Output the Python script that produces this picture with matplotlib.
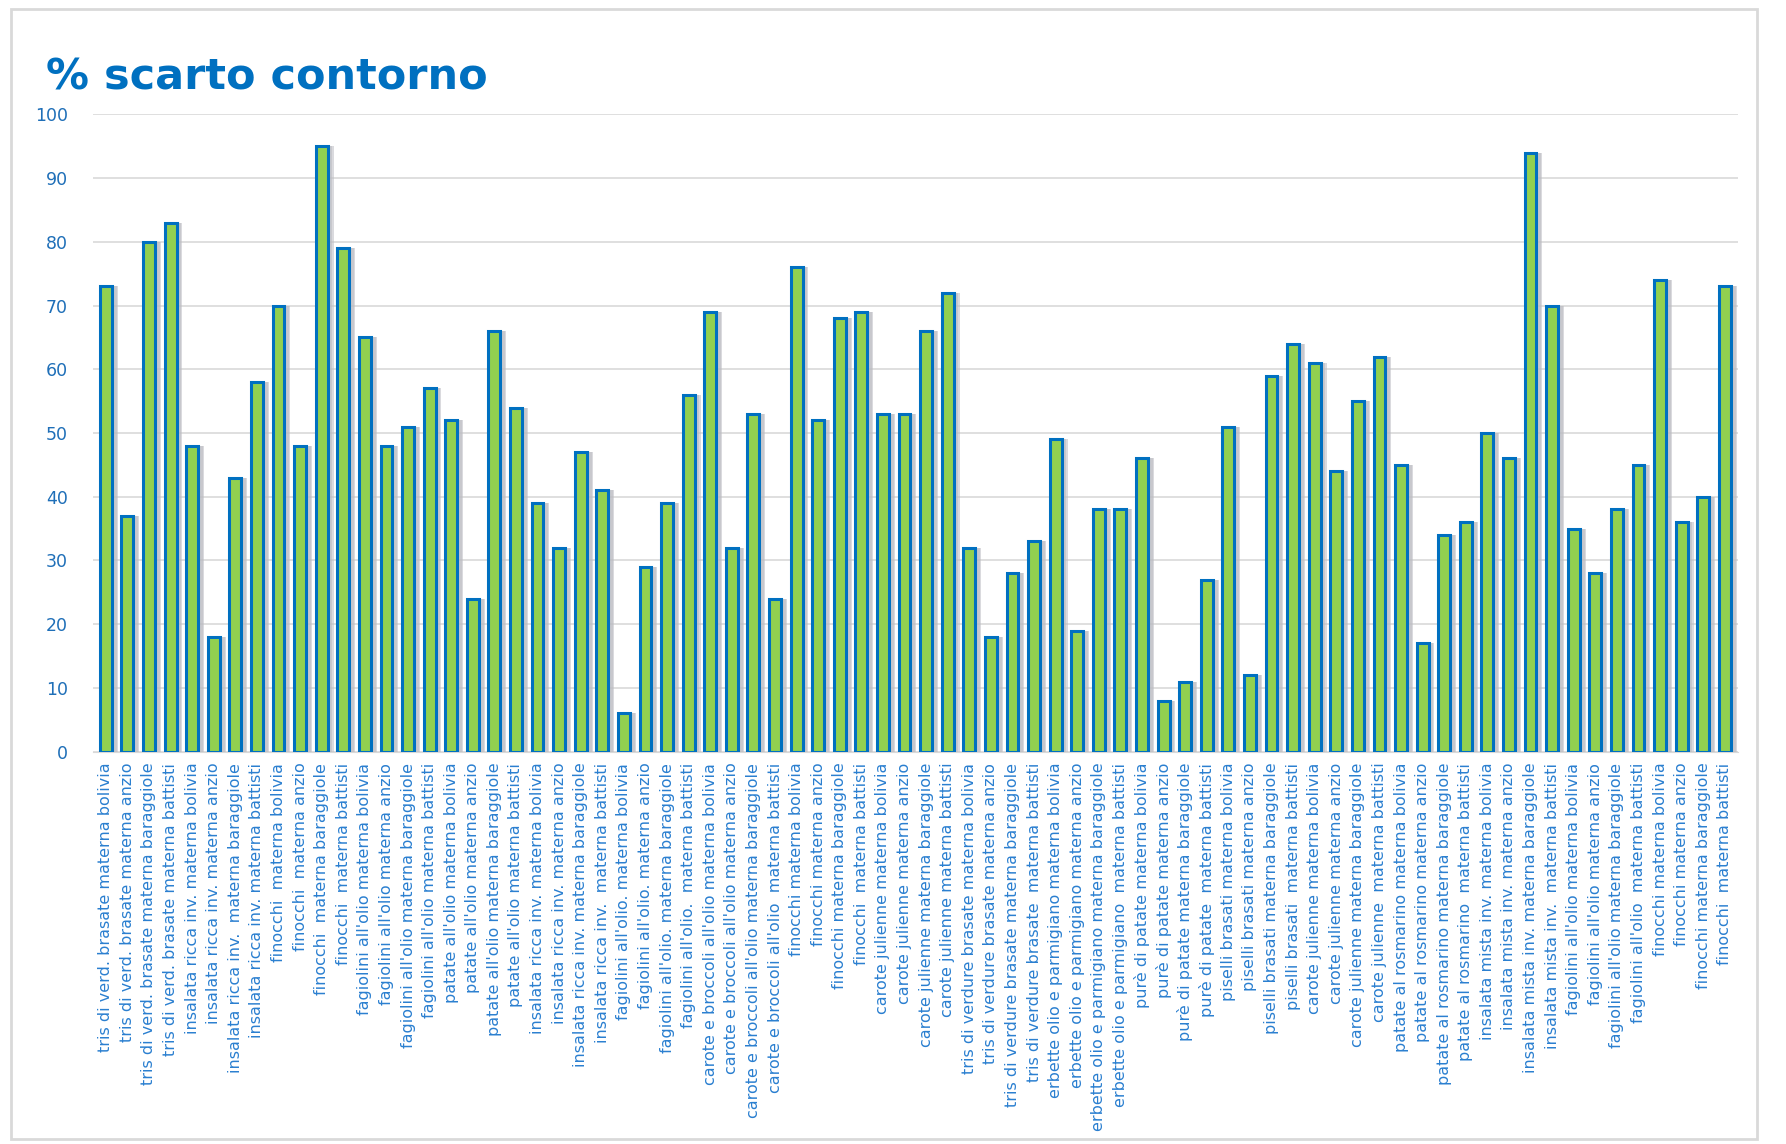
import numpy as np
import matplotlib.pyplot as plt
from matplotlib.patches import Rectangle

labels = [
    "tris di verd. brasate materna bolivia",
    "tris di verd. brasate materna anzio",
    "tris di verd. brasate materna baraggiole",
    "tris di verd. brasate materna battisti",
    "insalata ricca inv. materna bolivia",
    "insalata ricca inv. materna anzio",
    "insalata ricca inv.  materna baraggiole",
    "insalata ricca inv. materna battisti",
    "finocchi  materna bolivia",
    "finocchi  materna anzio",
    "finocchi  materna baraggiole",
    "finocchi  materna battisti",
    "fagiolini all'olio materna bolivia",
    "fagiolini all'olio materna anzio",
    "fagiolini all'olio materna baraggiole",
    "fagiolini all'olio materna battisti",
    "patate all'olio materna bolivia",
    "patate all'olio materna anzio",
    "patate all'olio materna baraggiole",
    "patate all'olio materna battisti",
    "insalata ricca inv. materna bolivia",
    "insalata ricca inv. materna anzio",
    "insalata ricca inv. materna baraggiole",
    "insalata ricca inv.  materna battisti",
    "fagiolini all'olio. materna bolivia",
    "fagiolini all'olio. materna anzio",
    "fagiolini all'olio. materna baraggiole",
    "fagiolini all'olio.  materna battisti",
    "carote e broccoli all'olio materna bolivia",
    "carote e broccoli all'olio materna anzio",
    "carote e broccoli all'olio materna baraggiole",
    "carote e broccoli all'olio  materna battisti",
    "finocchi materna bolivia",
    "finocchi materna anzio",
    "finocchi materna baraggiole",
    "finocchi  materna battisti",
    "carote julienne materna bolivia",
    "carote julienne materna anzio",
    "carote julienne materna baraggiole",
    "carote julienne materna battisti",
    "tris di verdure brasate materna bolivia",
    "tris di verdure brasate materna anzio",
    "tris di verdure brasate materna baraggiole",
    "tris di verdure brasate  materna battisti",
    "erbette olio e parmigiano materna bolivia",
    "erbette olio e parmigiano materna anzio",
    "erbette olio e parmigiano materna baraggiole",
    "erbette olio e parmigiano  materna battisti",
    "purè di patate materna bolivia",
    "purè di patate materna anzio",
    "purè di patate materna baraggiole",
    "purè di patate  materna battisti",
    "piselli brasati materna bolivia",
    "piselli brasati materna anzio",
    "piselli brasati materna baraggiole",
    "piselli brasati  materna battisti",
    "carote julienne materna bolivia",
    "carote julienne materna anzio",
    "carote julienne materna baraggiole",
    "carote julienne  materna battisti",
    "patate al rosmarino materna bolivia",
    "patate al rosmarino materna anzio",
    "patate al rosmarino materna baraggiole",
    "patate al rosmarino  materna battisti",
    "insalata mista inv. materna bolivia",
    "insalata mista inv. materna anzio",
    "insalata mista inv. materna baraggiole",
    "insalata mista inv.  materna battisti",
    "fagiolini all'olio materna bolivia",
    "fagiolini all'olio materna anzio",
    "fagiolini all'olio materna baraggiole",
    "fagiolini all'olio  materna battisti",
    "finocchi materna bolivia",
    "finocchi materna anzio",
    "finocchi materna baraggiole",
    "finocchi  materna battisti",
]

values = [73, 37, 80, 83, 48, 18, 43, 58, 70, 48, 95, 79,
          65, 48, 51, 57, 52, 24, 66, 54, 39, 32, 47, 41,
          6, 29, 39, 56, 69, 32, 53, 24, 76, 52, 68, 69,
          53, 53, 66, 72, 32, 18, 28, 33, 49, 19, 38, 38,
          46, 8, 11, 27, 51, 12, 59, 64, 61, 44, 55, 62,
          45, 17, 34, 36, 50, 46, 94, 70, 35, 28, 38, 45,
          74, 36, 40, 73]

yticks = [0, 10, 20, 30, 40, 50, 60, 70, 80, 90, 100]

blue = "#0070C0"
green = "#92D050"

fig = plt.figure(figsize=(17.86, 11.44), dpi=100)
fig.patches.append(Rectangle((0.006, 0.004), 0.978, 0.988, transform=fig.transFigure,
                             fill=False, edgecolor="#D9D9D9", linewidth=2))

ax = fig.add_axes([0.052, 0.343, 0.921, 0.557])
x = np.arange(len(values))

# soft grey shadow to the right of each bar
ax.bar(x + 0.2, values, width=0.6, color="#BDBDC3", alpha=0.6, zorder=2, linewidth=0)
ax.bar(x + 0.3, values, width=0.5, color="#BDBDC3", alpha=0.55, zorder=2, linewidth=0)
ax.bar(x, values, width=0.55, color=green, edgecolor=blue, linewidth=2.2, zorder=3)

ax.set_xlim(-0.6, len(values) - 0.4)
ax.set_ylim(0, 100)
ax.set_yticks(yticks)
ax.set_yticklabels([str(v) for v in yticks], color="#1F6FB8", fontsize=12.5)
ax.set_xticks(x)
ax.set_xticklabels(labels, rotation=90, fontsize=11.5, color="#2A7FD0", va="top", ha="center")
ax.tick_params(axis="both", length=0, pad=8)
ax.tick_params(axis="y", pad=18)
ax.grid(axis="y", color="#D9D9D9", linewidth=1.2, zorder=0)
ax.set_axisbelow(True)
for s in ["top", "right", "left"]:
    ax.spines[s].set_visible(False)
ax.spines["bottom"].set_color("#D9D9D9")

fig.text(0.026, 0.922, "% scarto contorno", fontsize=31, fontweight="bold", color=blue)

plt.savefig("out.png", dpi=100)
